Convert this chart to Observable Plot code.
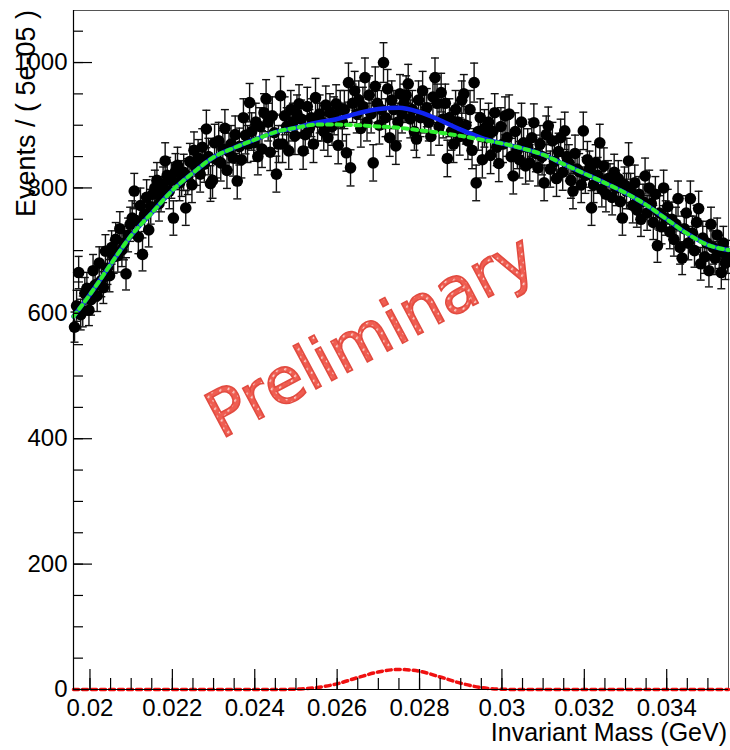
<!DOCTYPE html>
<html>
<head>
<meta charset="utf-8">
<script src="https://cdn.jsdelivr.net/npm/d3@7"></script>
<script src="https://cdn.jsdelivr.net/npm/@observablehq/plot@0.6"></script>
<style>
  html, body { margin: 0; padding: 0; background: #fff; }
  #chart { width: 730px; height: 750px; }
</style>
</head>
<body>
<div id="chart"></div>
<script>
// ---- Binning (invariant mass, GeV) ----
const massRange = [0.0196, 0.0355];
const binWidth = 0.00005;

// ---- Event counts per bin (318 bins) ----
const counts = [
  578, 612, 665, 598, 603, 632, 640, 605, 622, 668,
  645, 628, 680, 652, 641, 699, 672, 660, 705, 690,
  718, 692, 735, 701, 712, 663, 725, 742, 752, 795,
  748, 722, 772, 694, 758, 785, 733, 770, 790, 800,
  812, 775, 790, 805, 843, 820, 795, 812, 752, 826,
  836, 808, 815, 825, 768, 818, 842, 805, 860, 833,
  848, 822, 865, 838, 894, 850, 807, 812, 872, 845,
  875, 840, 862, 895, 828, 858, 870, 848, 885, 811,
  866, 845, 912, 884, 870, 936, 890, 872, 905, 850,
  898, 862, 920, 942, 905, 857, 915, 888, 822, 870,
  947, 870, 915, 898, 859, 925, 905, 883, 918, 934,
  910, 859, 885, 930, 895, 912, 870, 944, 905, 918,
  905, 890, 932, 880, 920, 898, 915, 934, 868, 925,
  905, 925, 856, 968, 832, 935, 955, 918, 940, 895,
  930, 976, 905, 948, 918, 840, 962, 935, 900, 925,
  1000, 912, 958, 880, 940, 925, 867, 905, 950, 918,
  935, 948, 966, 910, 925, 890, 878, 940, 912, 955,
  918, 928, 905, 882, 945, 976, 935, 898, 952, 910,
  935, 847, 912, 890, 870, 925, 905, 882, 940, 950,
  900, 875, 925, 860, 968, 808, 890, 912, 845, 895,
  880, 905, 852, 890, 920, 865, 839, 898, 870, 915,
  880, 918, 850, 819, 890, 860, 845, 905, 872, 835,
  865, 840, 880, 904, 855, 832, 870, 850, 808, 885,
  899, 830, 875, 842, 815, 858, 880, 825, 891, 850,
  840, 812, 795, 855, 830, 826, 805, 891, 820, 845,
  830, 768, 805, 840, 820, 872, 798, 835, 790, 815,
  810, 785, 825, 800, 815, 778, 752, 805, 795, 843,
  795, 772, 808, 765, 790, 750, 778, 819, 760, 800,
  775, 745, 790, 708, 760, 738, 800, 752, 770, 730,
  750, 718, 742, 783, 705, 688, 735, 760, 712, 783,
  728, 700, 745, 767, 679, 720, 690, 712, 668, 742,
  705, 688, 725, 698, 665, 712, 680, 690
];

// ---- Fit curves ----
const curveMass = [
  0.0196, 0.0200, 0.0205, 0.0210, 0.0215, 0.0220, 0.0225, 0.0230, 0.0235, 0.0240,
  0.0245, 0.0250, 0.0255, 0.0260, 0.0265, 0.0270, 0.0275, 0.0280, 0.0285, 0.0290,
  0.0295, 0.0300, 0.0305, 0.0310, 0.0315, 0.0320, 0.0325, 0.0330, 0.0335, 0.0340,
  0.0345, 0.0350, 0.0355
];
const totalFit = [
  595, 630, 678, 724, 760, 796, 824, 849, 864, 877,
  889, 896, 904, 910, 919, 926, 928, 921, 908, 893,
  880, 871, 863, 853, 838, 823, 808, 792, 773, 750,
  727, 709, 701
];
const backgroundFit = [
  595, 630, 678, 724, 760, 796, 824, 849, 864, 877,
  889, 896, 901, 901, 900, 898, 896, 892, 888, 883,
  877, 871, 863, 853, 838, 823, 808, 792, 773, 750,
  727, 709, 701
];
const signalFit = [
  0, 0, 0, 0, 0, 0, 0, 0, 0, 0,
  0, 0.5, 3, 9, 19, 28, 32, 29, 20, 10,
  3, 0.5, 0, 0, 0, 0, 0, 0, 0, 0,
  0, 0, 0
];

// ---- Axis ticks ----
const xMajorTicks = [0.020, 0.022, 0.024, 0.026, 0.028, 0.030, 0.032, 0.034];
const xMinorTicks = [0.0200, 0.0205, 0.0210, 0.0215, 0.0220, 0.0225, 0.0230, 0.0235, 0.0240, 0.0245,
  0.0250, 0.0255, 0.0260, 0.0265, 0.0270, 0.0275, 0.0280, 0.0285, 0.0290, 0.0295,
  0.0300, 0.0305, 0.0310, 0.0315, 0.0320, 0.0325, 0.0330, 0.0335, 0.0340, 0.0345, 0.0350];
const yMajorTicks = [0, 200, 400, 600, 800, 1000];
const yMinorTicks = [0, 50, 100, 150, 200, 250, 300, 350, 400, 450, 500, 550, 600, 650, 700, 750, 800, 850, 900, 950, 1000, 1050];

// ---- Build tables ----
const points = counts.map((n, i) => ({
  m: massRange[0] + (i + 0.5) * binWidth,
  n,
  err: Math.sqrt(n)
}));
const curves = curveMass.map((m, i) => ({m, total: totalFit[i], bkg: backgroundFit[i], sig: signalFit[i]}));

const capSymbol = { draw(ctx) { ctx.moveTo(-4, 0); ctx.lineTo(4, 0); } };

const W = 730, H = 750;
const mL = 73, mR = 2, mT = 10, mB = 61;
const frameW = W - mL - mR, frameH = H - mT - mB;

const chart = Plot.plot({
  width: W, height: H,
  marginLeft: mL, marginRight: mR, marginTop: mT, marginBottom: mB,
  x: { domain: massRange },
  y: { domain: [0, 1083] },
  style: { fontFamily: "'Liberation Sans', Arial, sans-serif", background: "white", color: "black", overflow: "visible" },
  marks: [
    Plot.frame({ stroke: "#555", strokeWidth: 1 }),
    // data error bars and caps
    Plot.ruleX(points, { x: "m", y1: d => d.n - d.err, y2: d => d.n + d.err, stroke: "#111", strokeWidth: 1.4 }),
    Plot.dot(points, { x: "m", y: d => d.n + d.err, symbol: capSymbol, stroke: "#111", strokeWidth: 1.4, fill: "none" }),
    Plot.dot(points, { x: "m", y: d => d.n - d.err, symbol: capSymbol, stroke: "#111", strokeWidth: 1.4, fill: "none" }),
    Plot.dot(points, { x: "m", y: "n", r: 5.8, fill: "black", stroke: "none" }),
    // fit curves
    Plot.line(curves, { x: "m", y: "total", stroke: "#1024f0", strokeWidth: 4.5, curve: "monotone-x" }),
    Plot.line(curves, { x: "m", y: "bkg", stroke: "#2ef02e", strokeWidth: 4, strokeDasharray: "5,4.5", curve: "monotone-x" }),
    Plot.line(curves, { x: "m", y: "sig", stroke: "#f01010", strokeWidth: 3.5, strokeDasharray: "5,4", curve: "monotone-x" }),
    // axis lines
    Plot.ruleY([0], { stroke: "black", strokeWidth: 1.2 }),
    Plot.ruleX([massRange[0]], { stroke: "black", strokeWidth: 1.2 }),
    // inward ticks
    Plot.tickX(xMajorTicks, { x: d => d, insetTop: frameH - 20, stroke: "black", strokeWidth: 1.2 }),
    Plot.tickX(xMinorTicks, { x: d => d, insetTop: frameH - 11, stroke: "black", strokeWidth: 1.2 }),
    Plot.tickY(yMajorTicks, { y: d => d, insetRight: frameW - 19, stroke: "black", strokeWidth: 1.2 }),
    Plot.tickY(yMinorTicks, { y: d => d, insetRight: frameW - 10, stroke: "black", strokeWidth: 1.2 }),
    // tick labels
    Plot.axisX(xMajorTicks, { tickSize: 0, tickPadding: 9, fontSize: 24, label: null, tickFormat: d => String(+d.toFixed(3)) }),
    Plot.axisY(yMajorTicks, { tickSize: 0, tickPadding: 6, fontSize: 24, label: null, tickFormat: d => String(d) })
  ]
});

const svg = d3.select(chart);
// hatched fill for the watermark
const defs = svg.append("defs");
const pat = defs.append("pattern")
  .attr("id", "prelimHatch").attr("patternUnits", "userSpaceOnUse")
  .attr("width", 6).attr("height", 6)
  .attr("patternTransform", "rotate(-28)");
pat.append("rect").attr("width", 6).attr("height", 6).attr("fill", "#ef5d51");
pat.append("rect").attr("x", 1).attr("y", 2).attr("width", 2.5).attr("height", 1.6).attr("fill", "#fbd6d1");

svg.append("text")
  .attr("x", 727).attr("y", 741)
  .attr("text-anchor", "end")
  .attr("font-family", "'Liberation Sans', Arial, sans-serif")
  .attr("font-size", 25)
  .attr("fill", "black")
  .text("Invariant Mass (GeV)");
svg.append("text")
  .attr("transform", "translate(35,10) rotate(-90)")
  .attr("text-anchor", "end")
  .attr("font-family", "'Liberation Sans', Arial, sans-serif")
  .attr("font-size", 27)
  .attr("fill", "black")
  .text("Events / ( 5e-05 )");
svg.append("text")
  .attr("transform", "translate(370,335) rotate(-28)")
  .attr("text-anchor", "middle")
  .attr("dy", "0.35em")
  .attr("font-family", "'DejaVu Sans', sans-serif")
  .attr("font-size", 64)
  .attr("fill", "url(#prelimHatch)")
  .attr("stroke", "#e24b40")
  .attr("stroke-width", 1.6)
  .text("Preliminary");

document.getElementById("chart").appendChild(chart);
</script>
</body>
</html>
